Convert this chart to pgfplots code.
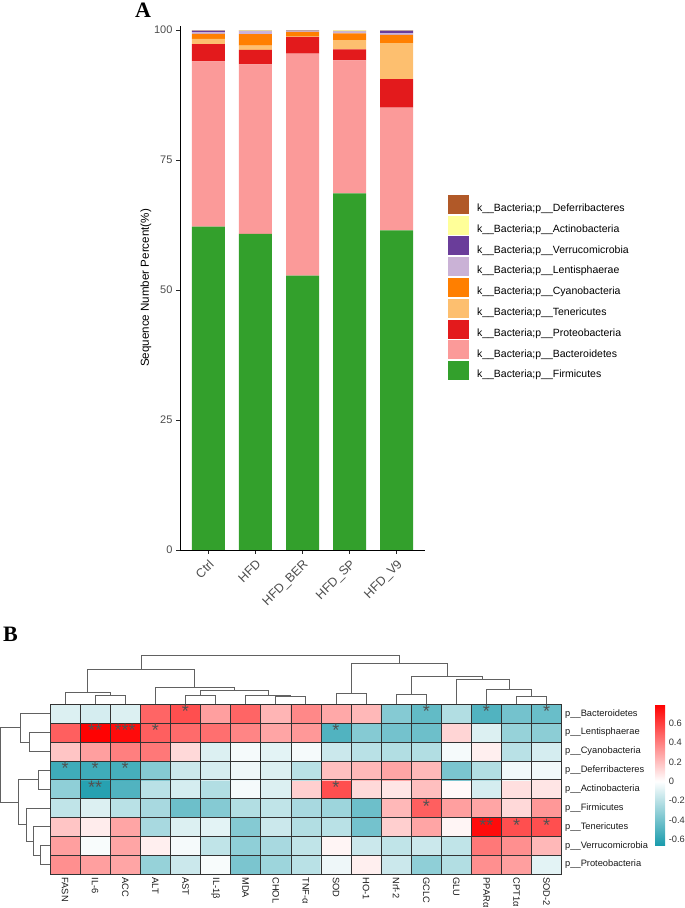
\documentclass[border=0pt]{standalone}
\usepackage{fontspec}
\setmainfont{Liberation Sans}
\newfontfamily\timesfont{Liberation Serif}
\usepackage{pgfplots}
\pgfplotsset{compat=1.18}
\usepackage{pgfplotstable}

\definecolor{cDef}{HTML}{B15928}
\definecolor{cAct}{HTML}{FFFF99}
\definecolor{cVer}{HTML}{6A3D9A}
\definecolor{cLen}{HTML}{CAB2D6}
\definecolor{cCya}{HTML}{FF7F00}
\definecolor{cTen}{HTML}{FDBF6F}
\definecolor{cPro}{HTML}{E31A1C}
\definecolor{cBac}{HTML}{FB9A99}
\definecolor{cFir}{HTML}{33A02C}
\definecolor{tickgray}{HTML}{4D4D4D}

\pgfplotsset{
  sqlegend/.style={legend image code/.code={\fill[##1] (0pt,-5.9pt) rectangle (21pt,13.1pt);}},
  dend/.style={black!62, line width=0.8pt, mark=none},
}

\pgfplotstableread{
g Fir Bac Pro Ten Cya Len Ver Act Def
1 62.2 31.8 3.3 1.0 1.0 0.3 0.3 0.05 0.05
2 60.8 32.6 2.8 0.8 2.25 0.5 0.1 0.1 0.05
3 52.8 42.7 3.2 0.15 0.8 0.15 0.1 0.05 0.05
4 68.6 25.6 2.1 1.8 1.3 0.3 0.05 0.2 0.05
5 61.5 23.6 5.5 6.9 1.6 0.3 0.5 0.05 0.05
}\bars

\pgfplotstableread[row sep=\\]{
x y c\\
1 1 0.35\\ 2 1 0.30\\ 3 1 0.28\\ 4 1 -0.30\\ 5 1 -0.15\\ 6 1 -0.02\\ 7 1 -0.38\\ 8 1 -0.28\\ 9 1 -0.20\\ 10 1 -0.05\\ 11 1 0.05\\ 12 1 -0.15\\ 13 1 -0.32\\ 14 1 -0.22\\ 15 1 0.35\\ 16 1 0.30\\ 17 1 -0.08\\
1 2 0.30\\ 2 2 -0.02\\ 3 2 0.28\\ 4 2 0.05\\ 5 2 -0.03\\ 6 2 -0.18\\ 7 2 -0.32\\ 8 2 -0.25\\ 9 2 -0.18\\ 10 2 0.03\\ 11 2 -0.15\\ 12 2 -0.18\\ 13 2 -0.15\\ 14 2 -0.18\\ 15 2 0.42\\ 16 2 0.35\\ 17 2 0.22\\
1 3 0.18\\ 2 3 0.06\\ 3 3 0.28\\ 4 3 -0.25\\ 5 3 -0.10\\ 6 3 -0.08\\ 7 3 -0.35\\ 8 3 -0.15\\ 9 3 -0.22\\ 10 3 -0.20\\ 11 3 -0.40\\ 12 3 0.15\\ 13 3 0.28\\ 14 3 0.03\\ 15 3 0.76\\ 16 3 0.55\\ 17 3 0.55\\
1 4 -0.18\\ 2 4 -0.10\\ 3 4 -0.20\\ 4 4 -0.25\\ 5 4 -0.42\\ 6 4 -0.35\\ 7 4 -0.22\\ 8 4 -0.18\\ 9 4 -0.25\\ 10 4 -0.28\\ 11 4 -0.42\\ 12 4 0.22\\ 13 4 0.50\\ 14 4 0.30\\ 15 4 0.28\\ 16 4 0.12\\ 17 4 0.32\\
1 5 -0.32\\ 2 5 -0.62\\ 3 5 -0.50\\ 4 5 -0.20\\ 5 5 -0.12\\ 6 5 -0.22\\ 7 5 -0.03\\ 8 5 -0.10\\ 9 5 0.15\\ 10 5 0.55\\ 11 5 0.12\\ 12 5 0.08\\ 13 5 0.20\\ 14 5 0.02\\ 15 5 -0.12\\ 16 5 0.10\\ 17 5 0.08\\
1 6 -0.55\\ 2 6 -0.55\\ 3 6 -0.53\\ 4 6 -0.35\\ 5 6 -0.15\\ 6 6 -0.12\\ 7 6 -0.05\\ 8 6 -0.10\\ 9 6 -0.20\\ 10 6 0.20\\ 11 6 0.22\\ 12 6 0.28\\ 13 6 0.22\\ 14 6 -0.38\\ 15 6 -0.22\\ 16 6 -0.04\\ 17 6 -0.04\\
1 7 0.18\\ 2 7 0.30\\ 3 7 0.40\\ 4 7 0.42\\ 5 7 0.12\\ 6 7 -0.10\\ 7 7 -0.03\\ 8 7 -0.08\\ 9 7 -0.03\\ 10 7 -0.15\\ 11 7 -0.20\\ 12 7 -0.22\\ 13 7 -0.22\\ 14 7 -0.03\\ 15 7 0.05\\ 16 7 -0.20\\ 17 7 -0.12\\
1 8 0.50\\ 2 8 0.79\\ 3 8 0.76\\ 4 8 0.50\\ 5 8 0.46\\ 6 8 0.45\\ 7 8 0.38\\ 8 8 0.28\\ 9 8 0.32\\ 10 8 -0.50\\ 11 8 -0.35\\ 12 8 -0.40\\ 13 8 -0.42\\ 14 8 0.13\\ 15 8 -0.10\\ 16 8 -0.30\\ 17 8 -0.33\\
1 9 -0.10\\ 2 9 -0.12\\ 3 9 -0.10\\ 4 9 0.48\\ 5 9 0.55\\ 6 9 0.30\\ 7 9 0.48\\ 8 9 0.23\\ 9 9 0.37\\ 10 9 0.27\\ 11 9 0.22\\ 12 9 -0.35\\ 13 9 -0.45\\ 14 9 -0.22\\ 15 9 -0.50\\ 16 9 -0.40\\ 17 9 -0.43\\
}\heat

\pgfplotstableread[row sep=\\]{
x y s\\
5 9 *\\ 13 9 *\\ 15 9 *\\ 17 9 *\\
2 8 **\\ 3 8 ***\\ 4 8 *\\ 10 8 *\\
1 6 *\\ 2 6 *\\ 3 6 *\\
2 5 **\\ 10 5 *\\
13 4 *\\
15 3 **\\ 16 3 *\\ 17 3 *\\
}\stars

\begin{document}
\begin{tikzpicture}
\path[use as bounding box] (0,0) rectangle (685pt,908pt);

% ---------------- Panel A ----------------
\begin{axis}[
  at={(180pt,358pt)}, anchor=south west, scale only axis,
  width=245pt, height=524pt,
  ybar stacked, bar width=33pt,
  xmin=0.4, xmax=5.6, ymin=0, ymax=100.8,
  axis x line*=bottom, axis y line*=left,
  axis line style={black, line width=0.8pt},
  xtick={1,2,3,4,5}, xticklabels={Ctrl,HFD,HFD\_BER,HFD\_SP,HFD\_V9},
  ytick={0,25,50,75,100},
  tick align=outside, major tick length=4pt,
  tick style={black!85, line width=0.8pt},
  xticklabel style={rotate=45, anchor=north east, font=\fontsize{12.5}{13}\selectfont, text=tickgray},
  yticklabel style={font=\fontsize{11}{12}\selectfont, text=tickgray},
  /pgf/number format/assume math mode=true,
  ylabel={Sequence Number Percent(\%)},
  ylabel style={at={(axis description cs:-0.1388,0.5)}, anchor=center, font=\fontsize{11.6}{13}\selectfont},
  reverse legend,
  legend cell align=left,
  legend style={at={(axis description cs:1.0939,0.6777)}, anchor=north west,
    draw=none, fill=none, inner sep=0pt, outer sep=0pt, row sep=-2.7pt, column sep=8pt,
    font=\fontsize{10.5}{12}\selectfont,
    nodes={inner sep=0pt, text height=14pt, text depth=6.8pt}},
]
\addplot[fill=cFir, draw=none, sqlegend] table[x=g, y=Fir] {\bars};
\addlegendentry{k\_\_Bacteria;p\_\_Firmicutes}
\addplot[fill=cBac, draw=none, sqlegend] table[x=g, y=Bac] {\bars};
\addlegendentry{k\_\_Bacteria;p\_\_Bacteroidetes}
\addplot[fill=cPro, draw=none, sqlegend] table[x=g, y=Pro] {\bars};
\addlegendentry{k\_\_Bacteria;p\_\_Proteobacteria}
\addplot[fill=cTen, draw=none, sqlegend] table[x=g, y=Ten] {\bars};
\addlegendentry{k\_\_Bacteria;p\_\_Tenericutes}
\addplot[fill=cCya, draw=none, sqlegend] table[x=g, y=Cya] {\bars};
\addlegendentry{k\_\_Bacteria;p\_\_Cyanobacteria}
\addplot[fill=cLen, draw=none, sqlegend] table[x=g, y=Len] {\bars};
\addlegendentry{k\_\_Bacteria;p\_\_Lentisphaerae}
\addplot[fill=cVer, draw=none, sqlegend] table[x=g, y=Ver] {\bars};
\addlegendentry{k\_\_Bacteria;p\_\_Verrucomicrobia}
\addplot[fill=cAct, draw=none, sqlegend] table[x=g, y=Act] {\bars};
\addlegendentry{k\_\_Bacteria;p\_\_Actinobacteria}
\addplot[fill=cDef, draw=none, sqlegend] table[x=g, y=Def] {\bars};
\addlegendentry{k\_\_Bacteria;p\_\_Deferribacteres}
\end{axis}

% ---------------- Panel B: heatmap ----------------
\begin{axis}[
  at={(50pt,34pt)}, anchor=south west, scale only axis,
  width=511.7pt, height=169.7pt,
  xmin=0.5, xmax=17.5, ymin=0.5, ymax=9.5,
  enlargelimits=false, axis on top,
  xtick={1,...,17},
  xticklabels={FASN,IL-6,ACC,ALT,AST,IL-1β,MDA,CHOL,TNF-α,SOD,HO-1,Nrf-2,GCLC,GLU,PPARα,CPT1α,SOD-2},
  ytick={1,...,9},
  yticklabels={p\_\_Proteobacteria,p\_\_Verrucomicrobia,p\_\_Tenericutes,p\_\_Firmicutes,p\_\_Actinobacteria,p\_\_Deferribacteres,p\_\_Cyanobacteria,p\_\_Lentisphaerae,p\_\_Bacteroidetes},
  yticklabel pos=right,
  major tick length=0pt, minor tick length=0pt,
  minor xtick={1.5,2.5,...,16.5}, minor ytick={1.5,2.5,...,8.5},
  xminorgrids, yminorgrids,
  minor grid style={black!80, line width=0.6pt},
  axis line style={black!80, line width=0.6pt},
  xticklabel style={rotate=-90, anchor=west, font=\fontsize{9.3}{11}\selectfont, text=black!90},
  yticklabel style={anchor=west, font=\fontsize{9.3}{11}\selectfont, text=black!90},
  colormap={hm}{rgb255(0cm)=(25,155,172); rgb255(6.6cm)=(255,255,255); rgb255(14.55cm)=(255,0,0)},
  point meta min=-0.66, point meta max=0.795,
  colorbar,
  colorbar style={
    at={(parent axis.north east)}, anchor=north west, xshift=85pt,
    scale only axis, width=10pt, height=141pt,
    ytick={-0.6,-0.4,-0.2,0,0.2,0.4,0.6},
    yticklabels={-0.6,-0.4,-0.2,0,0.2,0.4,0.6},
    yticklabel style={font=\fontsize{9.3}{11}\selectfont, text=black!80},
    major tick length=0pt, axis line style={draw=none},
  },
]
\addplot[matrix plot*, mesh/cols=17, point meta=explicit] table[x=x, y=y, meta=c] {\heat};
\addplot[only marks, mark=none, point meta=explicit symbolic,
  nodes near coords,
  nodes near coords style={anchor=center, yshift=2pt, inner sep=0pt, font=\fontsize{18}{18}\selectfont, text=black!68}]
  table[x=x, y=y, meta=s] {\stars};
\end{axis}

% column dendrogram
\begin{axis}[
  at={(50pt,204pt)}, anchor=south west, scale only axis,
  width=511.7pt, height=49pt,
  xmin=0.5, xmax=17.5, ymin=0, ymax=49, hide axis, clip=false,
]
\addplot[dend] coordinates {(2,0) (2,8.3) (3,8.3) (3,0)};
\addplot[dend] coordinates {(1,0) (1,11.7) (2.5,11.7) (2.5,8.3)};
\addplot[dend] coordinates {(8,0) (8,8) (9,8) (9,0)};
\addplot[dend] coordinates {(7,0) (7,9) (8.5,9) (8.5,8)};
\addplot[dend] coordinates {(5,0) (5,9) (6,9) (6,0)};
\addplot[dend] coordinates {(5.5,9) (5.5,14) (7.75,14) (7.75,9)};
\addplot[dend] coordinates {(4,0) (4,16.3) (6.625,16.3) (6.625,14)};
\addplot[dend] coordinates {(1.75,11.7) (1.75,35) (5.3125,35) (5.3125,16.3)};
\addplot[dend] coordinates {(10,0) (10,10.7) (11,10.7) (11,0)};
\addplot[dend] coordinates {(12,0) (12,9.7) (13,9.7) (13,0)};
\addplot[dend] coordinates {(16,0) (16,8) (17,8) (17,0)};
\addplot[dend] coordinates {(15,0) (15,15) (16.5,15) (16.5,8)};
\addplot[dend] coordinates {(14,0) (14,25) (15.75,25) (15.75,15)};
\addplot[dend] coordinates {(12.5,9.7) (12.5,27.3) (14.875,27.3) (14.875,25)};
\addplot[dend] coordinates {(10.5,10.7) (10.5,40.7) (13.6875,40.7) (13.6875,27.3)};
\addplot[dend] coordinates {(3.53125,35) (3.53125,49) (12.09375,49) (12.09375,40.7)};
\end{axis}

% row dendrogram
\begin{axis}[
  at={(0pt,34pt)}, anchor=south west, scale only axis,
  width=50pt, height=169.7pt,
  xmin=0, xmax=50, x dir=reverse, ymin=0.5, ymax=9.5, hide axis, clip=false,
]
\addplot[dend] coordinates {(0,8) (20.7,8) (20.7,7) (0,7)};
\addplot[dend] coordinates {(0,9) (30,9) (30,7.5) (20.7,7.5)};
\addplot[dend] coordinates {(0,6) (11.7,6) (11.7,5) (0,5)};
\addplot[dend] coordinates {(0,2) (9.3,2) (9.3,1) (0,1)};
\addplot[dend] coordinates {(0,3) (16.7,3) (16.7,1.5) (9.3,1.5)};
\addplot[dend] coordinates {(0,4) (23.3,4) (23.3,2.25) (16.7,2.25)};
\addplot[dend] coordinates {(11.7,5.5) (31.7,5.5) (31.7,3.125) (23.3,3.125)};
\addplot[dend] coordinates {(30,8.25) (49.3,8.25) (49.3,4.3125) (31.7,4.3125)};
\end{axis}

\node[font=\timesfont\bfseries\fontsize{22}{22}\selectfont] at (143pt,898pt) {A};
\node[font=\timesfont\bfseries\fontsize{22}{22}\selectfont] at (10.5pt,274pt) {B};
\end{tikzpicture}
\end{document}
